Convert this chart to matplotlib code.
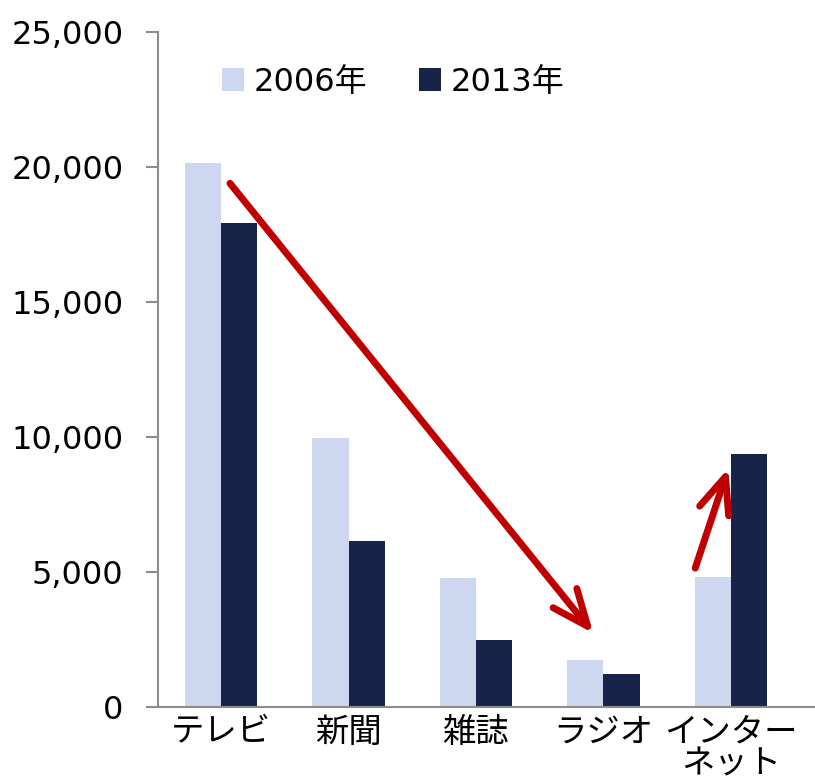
import numpy as np
from matplotlib import pyplot as plt

categories = ["テレビ", "新聞", "雑誌", "ラジオ", "インター\nネット"]
years = ["2006年", "2013年"]
values_2006 = [20161, 9986, 4777, 1744, 4826]
values_2013 = [17913, 6170, 2499, 1243, 9381]
yticks = [0, 5000, 10000, 15000, 20000, 25000]

# trend arrows: (x start, y start, x end, y end) in data units
arrows = [(0.07, 19400, 2.92, 2740), (3.72, 5150, 3.98, 8850)]

plt.rcParams['font.family'] = ['DejaVu Sans', 'Noto Sans CJK JP']

fig = plt.figure(figsize=(8.15, 7.84), dpi=100)
ax = fig.add_axes([0.194, 0.098, 0.806, 0.861])

x = np.arange(len(categories))
w = 0.285
ax.bar(x - w / 2, values_2006, w, color="#CDD7EF", label=years[0])
ax.bar(x + w / 2, values_2013, w, color="#172348", label=years[1])

ax.set_xlim(-0.494, 4.66)
ax.set_ylim(0, 25000)
ax.set_yticks(yticks)
ax.set_yticklabels([f"{v:,}" for v in yticks])
ax.set_xticks(x)
ax.set_xticklabels(categories, linespacing=0.95)

for s in ["top", "right"]:
    ax.spines[s].set_visible(False)
for s in ["left", "bottom"]:
    ax.spines[s].set_color("#8c8c8c")
    ax.spines[s].set_linewidth(1.5)
ax.tick_params(axis="y", length=9, width=1.5, color="#8c8c8c", pad=16, labelsize=23)
ax.tick_params(axis="x", length=0, pad=6, labelsize=24)

for x0, y0, x1, y1 in arrows:
    ax.annotate("", xy=(x1, y1), xytext=(x0, y0),
                arrowprops=dict(arrowstyle="->, head_length=1.3, head_width=0.55",
                                color="#C00000", lw=5, mutation_scale=20,
                                capstyle="round", joinstyle="round",
                                shrinkA=0, shrinkB=0))

ax.legend(loc="center", bbox_to_anchor=(0.358, 0.926), ncol=2, frameon=False,
          fontsize=23, handlelength=0.7, handleheight=0.7, handletextpad=0.3,
          columnspacing=1.6)

plt.savefig("out.png")
